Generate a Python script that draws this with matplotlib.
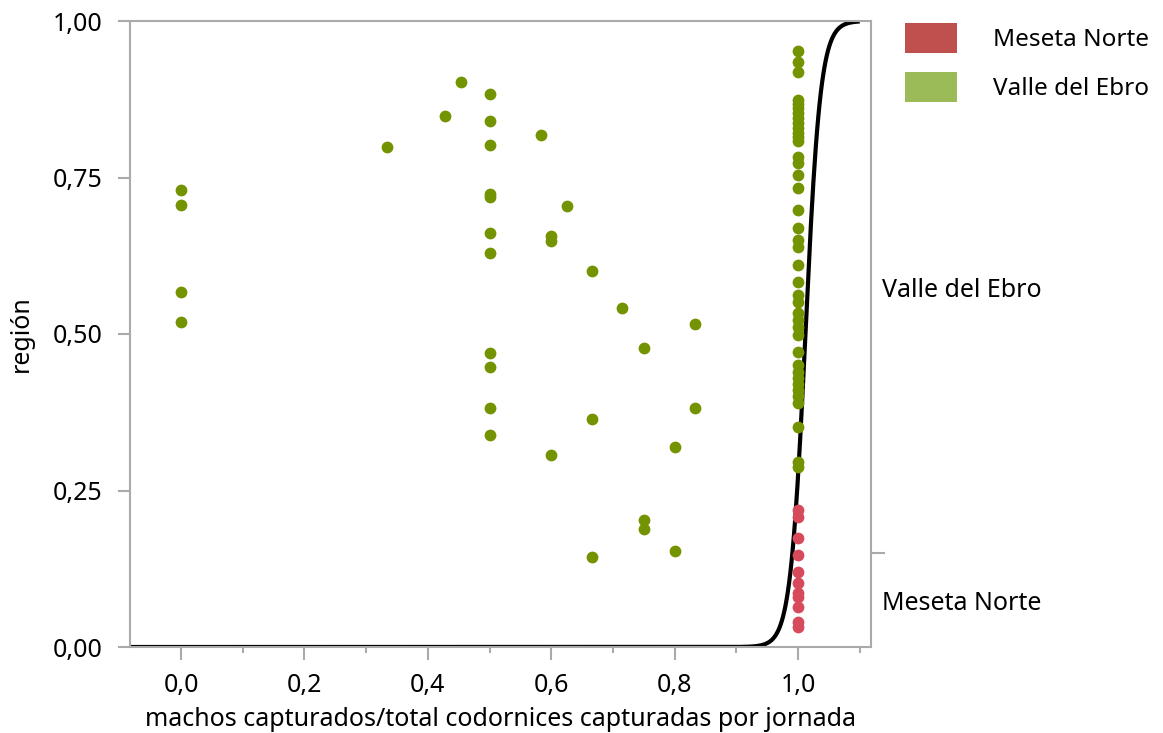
import matplotlib
matplotlib.use("Agg")
import matplotlib.pyplot as plt
import numpy as np
from matplotlib.patches import Patch
from matplotlib.ticker import FixedLocator, FuncFormatter

plt.rcParams["font.family"] = ["Noto Sans", "DejaVu Sans"]

# Valle del Ebro points: x = ratio, y = jittered plot height
valle_x = ([0.0] * 4 + [1 / 3, 3 / 7, 5 / 11] + [0.5] * 11 + [7 / 12, 5 / 8] + [0.6] * 3
           + [2 / 3] * 3 + [5 / 7] + [0.75] * 3 + [0.8] * 2 + [5 / 6] * 2 + [1.0] * 40)
valle_y = ([0.730, 0.706, 0.567, 0.519,
            0.799, 0.848, 0.903,
            0.883, 0.840, 0.802, 0.724, 0.719, 0.661, 0.629, 0.470, 0.447, 0.382, 0.339,
            0.818, 0.704,
            0.657, 0.649, 0.307,
            0.601, 0.364, 0.144,
            0.542,
            0.478, 0.203, 0.188,
            0.319, 0.153,
            0.516, 0.382,
            0.952, 0.935, 0.919, 0.874, 0.867, 0.861, 0.853, 0.845, 0.837, 0.829,
            0.821, 0.815, 0.808, 0.783, 0.773, 0.754, 0.733, 0.698, 0.669, 0.650,
            0.639, 0.610, 0.583, 0.562, 0.551, 0.534, 0.522, 0.511, 0.498, 0.471,
            0.450, 0.439, 0.430, 0.420, 0.411, 0.401, 0.390, 0.351, 0.296, 0.288])

# Meseta Norte points
meseta_x = [1.0] * 11
meseta_y = [0.219, 0.208, 0.174, 0.147, 0.120, 0.102, 0.086, 0.080, 0.064, 0.040, 0.032]

# logistic fit
fit_x0 = 1.012
fit_k = 82.0
fit_range = (-0.083, 1.10)
split = 0.15  # overall proportion Meseta Norte

regions = ["Meseta Norte", "Valle del Ebro"]
legend_colors = ["#C0504D", "#9BBB59"]
point_colors = ["#D64A5C", "#739300"]

GRAY = "#AAAAAA"
FS = 18

fig = plt.figure(figsize=(11.63, 7.33), dpi=100)
ax = fig.add_axes([130 / 1163, 86 / 733, 741 / 1163, 626 / 733])

xs = np.linspace(fit_range[0], fit_range[1], 600)
ax.plot(xs, 1 / (1 + np.exp(-fit_k * (xs - fit_x0))), color="black", lw=3, zorder=2,
        solid_capstyle="butt")
ax.scatter(valle_x, valle_y, s=72, color=point_colors[1], zorder=3, linewidths=0)
ax.scatter(meseta_x, meseta_y, s=72, color=point_colors[0], zorder=3, linewidths=0)

ax.set_xlim(-0.0827, 1.1183)
ax.set_ylim(0, 1)
comma = FuncFormatter(lambda v, p: ("%.1f" % v).replace(".", ","))
ax.xaxis.set_major_locator(FixedLocator([0, 0.2, 0.4, 0.6, 0.8, 1.0]))
ax.xaxis.set_minor_locator(FixedLocator([0.1, 0.3, 0.5, 0.7, 0.9, 1.1]))
ax.xaxis.set_major_formatter(comma)
ax.yaxis.set_major_locator(FixedLocator([0, 0.25, 0.5, 0.75, 1.0]))
ax.yaxis.set_major_formatter(FuncFormatter(lambda v, p: ("%.2f" % v).replace(".", ",")))

for s in ax.spines.values():
    s.set_color(GRAY)
    s.set_linewidth(1.5)
ax.tick_params(which="major", direction="out", length=9, width=1.5, color=GRAY,
               labelsize=FS, labelcolor="black")
ax.tick_params(which="minor", direction="out", length=4, width=1.5, color=GRAY)
ax.tick_params(axis="y", pad=11)
ax.tick_params(axis="x", pad=10)
ax.tick_params(axis="y", which="minor", left=False)

ax.set_xlabel("machos capturados/total codornices capturadas por jornada", fontsize=FS,
              labelpad=6)
ax.set_ylabel("región", fontsize=FS, labelpad=13)

# right-hand axis: split tick and region labels
ax2 = ax.twinx()
ax2.set_ylim(0, 1)
ax2.yaxis.set_major_locator(FixedLocator([split]))
ax2.yaxis.set_major_formatter(FuncFormatter(lambda v, p: ""))
ax2.yaxis.set_minor_locator(FixedLocator([split / 2, (split + 1) / 2]))
ax2.yaxis.set_minor_formatter(FuncFormatter(
    lambda v, p: regions[0] if v < split else regions[1]))
ax2.tick_params(which="major", direction="out", length=10, width=1.5, color=GRAY)
ax2.tick_params(which="minor", length=0, pad=8, labelsize=FS)
for s in ax2.spines.values():
    s.set_visible(False)

handles = [Patch(facecolor=c, edgecolor="none") for c in legend_colors]
fig.legend(handles, regions, loc="upper left", bbox_to_anchor=(905 / 1163, 1 - 23 / 733),
           frameon=False, fontsize=17.5, handlelength=2.14, handleheight=1.55,
           handletextpad=1.48, labelspacing=0.75, borderpad=0, borderaxespad=0)

fig.savefig("out.png", dpi=100)
